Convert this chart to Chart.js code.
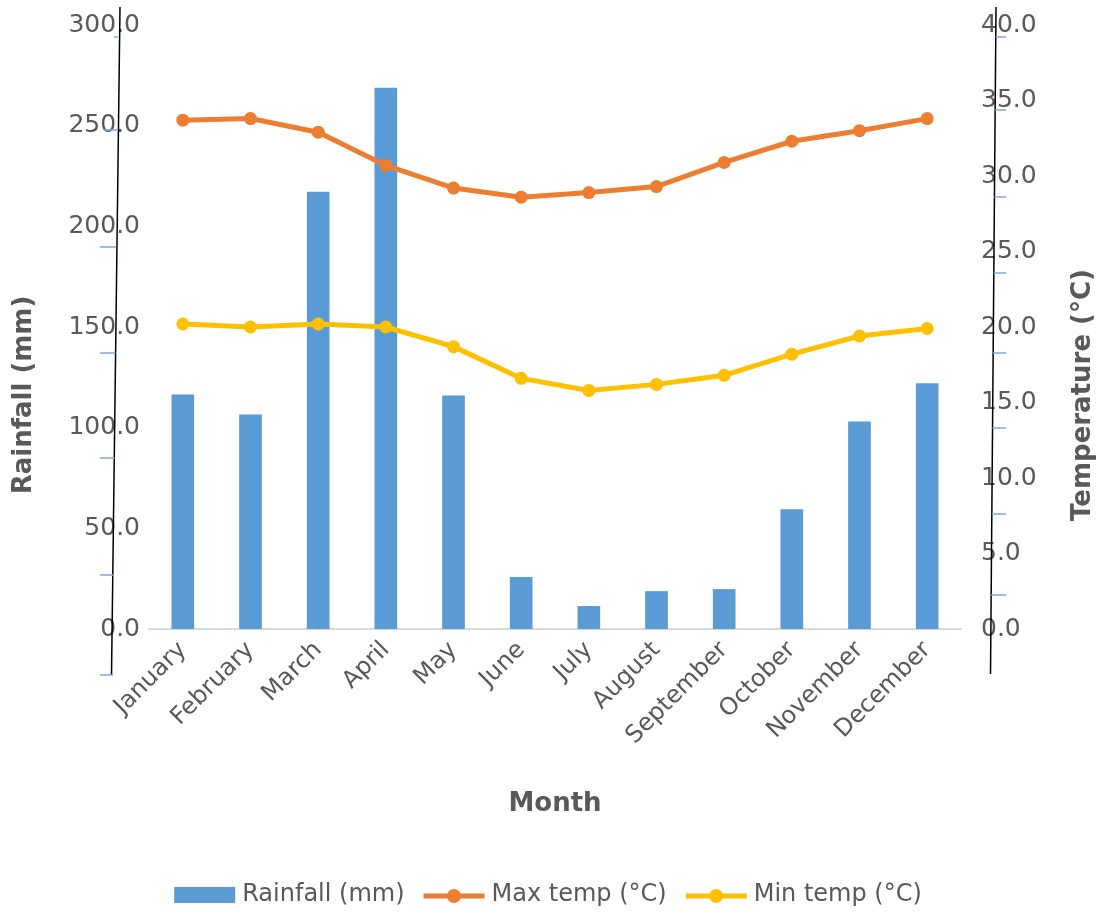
<!DOCTYPE html>
<html>
<head>
<meta charset="utf-8">
<title>Monthly rainfall and temperature</title>
<script src="https://cdn.jsdelivr.net/npm/chart.js@4.4.1/dist/chart.umd.min.js"></script>
<style>
  html, body { margin: 0; padding: 0; background: #ffffff; }
  #wrap { width: 1104px; height: 913px; }
</style>
</head>
<body>
<div id="wrap"><canvas id="climate" width="1104" height="913"></canvas></div>
<script>
// Monthly climate figures
const months = ['January', 'February', 'March', 'April', 'May', 'June',
                'July', 'August', 'September', 'October', 'November', 'December'];
const rainfallMm = [116.5, 106.6, 217.2, 268.8, 116.0, 25.8, 11.4, 18.8, 19.8, 59.5, 103.1, 122.0];
const maxTempC   = [33.7, 33.8, 32.9, 30.7, 29.2, 28.6, 28.9, 29.3, 30.9, 32.3, 33.0, 33.8];
const minTempC   = [20.2, 20.0, 20.2, 20.0, 18.7, 16.6, 15.8, 16.2, 16.8, 18.2, 19.4, 19.9];

// Axis tick values
const rainfallTicks = [0, 50, 100, 150, 200, 250, 300];
const tempTicks = [0, 5, 10, 15, 20, 25, 30, 35, 40];

const TEXT = '#595959';
const FONT = '"DejaVu Sans", sans-serif';
const BLUE = '#5B9BD5';
const ORANGE = '#ED7D31';
const GOLD = '#FFC000';

// Axis lines, small tick dashes, vertical axis titles and the legend
const decorations = {
  id: 'decorations',
  afterDraw(chart) {
    const ctx = chart.ctx;
    const area = chart.chartArea;
    ctx.save();

    // slightly leaning axis lines on both sides
    ctx.strokeStyle = '#000000';
    ctx.lineWidth = 1.5;
    ctx.beginPath();
    ctx.moveTo(area.left - 29, 7);
    ctx.lineTo(area.left - 37.5, 675);
    ctx.moveTo(area.right + 35, 7);
    ctx.lineTo(area.right + 29.5, 674);
    ctx.stroke();

    // tick dashes
    ctx.strokeStyle = '#7FAADB';
    ctx.lineWidth = 1.5;
    const leftDashes = [[114, 37], [104, 130], [100, 247], [100, 353], [100, 458], [100, 575], [100, 675]];
    ctx.beginPath();
    leftDashes.forEach(([x, y]) => { ctx.moveTo(x, y); ctx.lineTo(area.left - 31 - (y / 675) * 5, y); });
    const rightDashes = [37, 110, 197, 273, 353, 428, 514, 595];
    rightDashes.forEach(y => { ctx.moveTo(area.right + 35 - (y / 674) * 5.5, y); ctx.lineTo(area.right + 45, y); });
    ctx.stroke();

    // vertical axis titles
    ctx.fillStyle = TEXT;
    ctx.font = 'bold 26px ' + FONT;
    ctx.textAlign = 'center';
    ctx.textBaseline = 'middle';
    ctx.save();
    ctx.translate(24, 395);
    ctx.rotate(-Math.PI / 2);
    ctx.fillText('Rainfall (mm)', 0, 0);
    ctx.restore();
    ctx.save();
    ctx.translate(1083, 395);
    ctx.rotate(-Math.PI / 2);
    ctx.fillText('Temperature (°C)', 0, 0);
    ctx.restore();

    // legend
    ctx.font = '24px ' + FONT;
    ctx.textAlign = 'left';
    const symbolW = 61, gapText = 7, gapItem = 19, legendY = 895;
    const items = chart.data.datasets.map(ds => ({
      label: ds.label, type: ds.type, color: ds.borderColor || ds.backgroundColor,
      w: ctx.measureText(ds.label).width
    }));
    const total = items.reduce((s, it) => s + symbolW + gapText + it.w, 0) + gapItem * (items.length - 1);
    let x = 548 - total / 2;
    items.forEach(it => {
      if (it.type === 'bar') {
        ctx.fillStyle = it.color;
        ctx.fillRect(x, legendY - 8, symbolW, 16);
      } else {
        ctx.strokeStyle = it.color;
        ctx.lineWidth = 5;
        ctx.beginPath();
        ctx.moveTo(x, legendY + 1);
        ctx.lineTo(x + symbolW, legendY + 1);
        ctx.stroke();
        ctx.fillStyle = it.color;
        ctx.beginPath();
        ctx.arc(x + symbolW / 2, legendY + 1, 7, 0, Math.PI * 2);
        ctx.fill();
      }
      ctx.fillStyle = TEXT;
      ctx.fillText(it.label, x + symbolW + gapText, legendY);
      x += symbolW + gapText + it.w + gapItem;
    });

    ctx.restore();
  }
};

// keep the value axes from reserving extra room above the plot
function fixVerticalAxis(width) {
  return scale => {
    scale.width = width;
    scale.paddingTop = 8;
    scale.paddingBottom = 8;
  };
}

new Chart(document.getElementById('climate'), {
  type: 'bar',
  data: {
    labels: months,
    datasets: [
      {
        type: 'bar',
        label: 'Rainfall (mm)',
        data: rainfallMm,
        backgroundColor: BLUE,
        borderWidth: 0,
        yAxisID: 'y',
        barPercentage: 0.335,
        categoryPercentage: 1.0,
        order: 2
      },
      {
        type: 'line',
        label: 'Max temp (°C)',
        data: maxTempC,
        borderColor: ORANGE,
        backgroundColor: ORANGE,
        borderWidth: 5,
        pointRadius: 6.5,
        pointBorderWidth: 0,
        pointBackgroundColor: ORANGE,
        tension: 0,
        yAxisID: 'y1',
        order: 1
      },
      {
        type: 'line',
        label: 'Min temp (°C)',
        data: minTempC,
        borderColor: GOLD,
        backgroundColor: GOLD,
        borderWidth: 5,
        pointRadius: 6.5,
        pointBorderWidth: 0,
        pointBackgroundColor: GOLD,
        tension: 0,
        yAxisID: 'y1',
        order: 1
      }
    ]
  },
  options: {
    responsive: false,
    animation: false,
    devicePixelRatio: 1,
    layout: { padding: { top: 25, left: 0, right: 0, bottom: 80 } },
    plugins: {
      legend: { display: false },
      tooltip: { enabled: false }
    },
    scales: {
      x: {
        offset: true,
        grid: { display: false, drawTicks: false },
        border: { display: true, color: '#D9D9D9', width: 2 },
        ticks: {
          color: TEXT,
          font: { family: FONT, size: 24 },
          minRotation: 45,
          maxRotation: 45,
          padding: 7,
          autoSkip: false
        },
        title: {
          display: true,
          text: 'Month',
          color: TEXT,
          font: { family: FONT, size: 26, weight: 'bold' },
          padding: { top: 0, bottom: 13 }
        },
        afterFit(scale) { scale.height = 204; }
      },
      y: {
        position: 'left',
        min: 0,
        max: 300,
        grid: { display: false, drawTicks: false },
        border: { display: false },
        afterBuildTicks(scale) { scale.ticks = rainfallTicks.map(v => ({ value: v })); },
        ticks: {
          color: TEXT,
          font: { family: FONT, size: 25 },
          padding: 9,
          callback: v => Number(v).toFixed(1)
        },
        afterFit: fixVerticalAxis(149)
      },
      y1: {
        position: 'right',
        min: 0,
        max: 40,
        grid: { display: false, drawTicks: false },
        border: { display: false },
        afterBuildTicks(scale) { scale.ticks = tempTicks.map(v => ({ value: v })); },
        ticks: {
          color: TEXT,
          font: { family: FONT, size: 25 },
          padding: 20,
          callback: v => Number(v).toFixed(1)
        },
        afterFit: fixVerticalAxis(143)
      }
    }
  },
  plugins: [decorations]
});
</script>
</body>
</html>
